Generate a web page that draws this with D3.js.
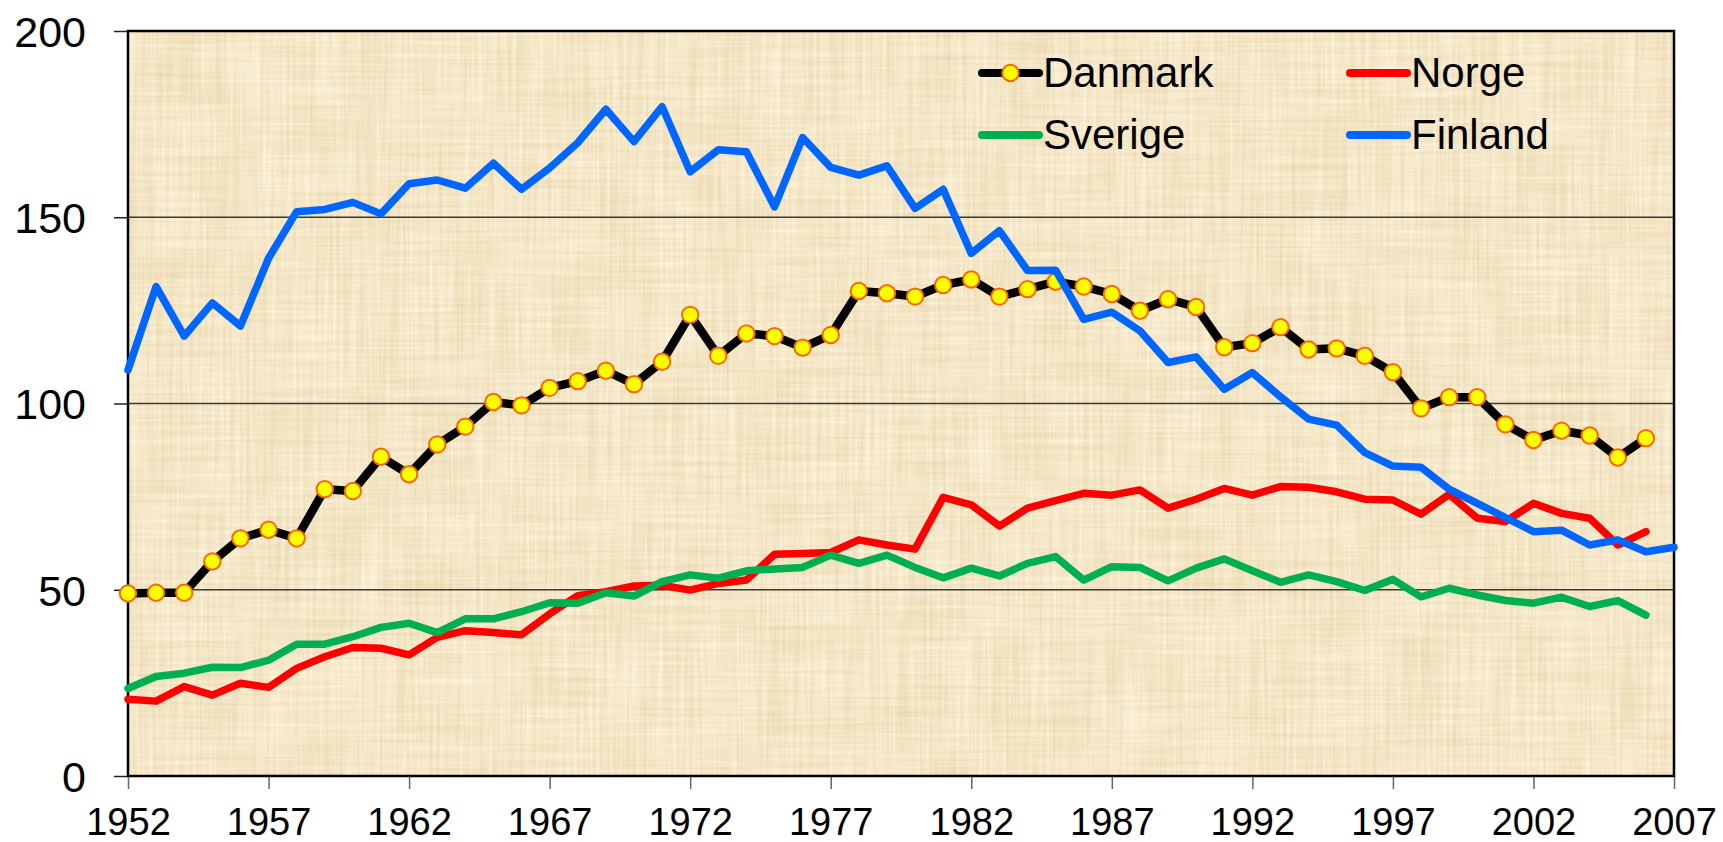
<!DOCTYPE html>
<html>
<head>
<meta charset="utf-8">
<script src="https://cdn.jsdelivr.net/npm/d3@7/dist/d3.min.js"></script>
<style>
  html, body { margin: 0; padding: 0; background: #ffffff; }
  svg { display: block; }
  text { font-family: "Liberation Sans", Arial, sans-serif; fill: #000; }
</style>
</head>
<body>
<svg id="chart" width="1723" height="842"></svg>
<script>
// ---- data ----
const years = [1952,1953,1954,1955,1956,1957,1958,1959,1960,1961,1962,1963,1964,1965,1966,1967,1968,1969,1970,1971,1972,1973,1974,1975,1976,1977,1978,1979,1980,1981,1982,1983,1984,1985,1986,1987,1988,1989,1990,1991,1992,1993,1994,1995,1996,1997,1998,1999,2000,2001,2002,2003,2004,2005,2006,2007];

const danmark = [49.0,49.2,49.2,57.6,63.8,66.1,63.8,77.0,76.5,85.7,81.0,89.0,93.8,100.4,99.5,104.2,106.0,108.8,105.2,111.2,123.8,112.8,118.8,118.1,115.0,118.4,130.2,129.6,128.7,131.8,133.3,128.7,130.7,132.7,131.4,129.4,124.9,128.0,125.9,115.1,116.2,120.5,114.5,114.8,112.8,108.4,98.7,101.7,101.7,94.4,90.2,92.7,91.4,85.5,90.7,null];

const norge = [20.6,20.1,24.0,21.7,24.9,23.8,28.9,32.0,34.5,34.3,32.5,37.2,39.0,38.5,37.9,43.5,48.4,49.5,51.0,51.2,49.9,51.7,52.6,59.5,59.7,60.0,63.4,62.0,60.9,74.8,72.8,67.1,71.9,73.9,75.9,75.4,76.8,71.9,74.3,77.2,75.4,77.7,77.5,76.3,74.3,74.1,70.3,75.6,69.2,68.3,73.2,70.5,69.2,62.0,65.6,null];

const sverige = [23.5,26.7,27.6,29.2,29.1,31.1,35.4,35.4,37.4,39.9,41.0,38.5,42.2,42.2,44.1,46.5,46.4,49.2,48.3,52.2,54.0,53.1,55.1,55.6,56.0,59.3,57.1,59.3,56.0,53.2,55.8,53.7,57.1,58.9,52.6,56.2,56.0,52.4,55.8,58.3,55.1,52.0,54.0,52.2,49.8,52.8,48.1,50.4,48.6,47.1,46.4,48.0,45.5,47.1,43.2,null];

const finland = [109.0,131.4,118.1,127.0,120.8,139.0,151.5,152.1,154.0,150.9,159.0,160.0,157.8,164.5,157.5,163.2,170.0,179.0,170.3,179.7,162.2,168.1,167.6,152.8,171.4,163.4,161.3,163.8,152.4,157.5,140.3,146.4,135.7,135.8,122.6,124.5,119.5,111.0,112.5,103.8,108.3,101.8,95.8,94.2,86.8,83.2,82.9,77.0,73.2,69.4,65.6,66.0,62.0,63.4,60.2,61.4];

const seriesNames = ["Danmark", "Norge", "Sverige", "Finland"];
const xTickLabels = [1952,1957,1962,1967,1972,1977,1982,1987,1992,1997,2002,2007];
const yTickLabels = [0,50,100,150,200];

// ---- layout ----
const W = 1723, H = 842;
const L = 128, R = 1674, T = 31, B = 776;

const svg = d3.select("#chart");
const x = d3.scaleLinear().domain([1952, 2007]).range([L, R]);
const y = d3.scaleLinear().domain([0, 200]).range([B, T]);

// papyrus texture (fibrous noise)
const defs = svg.append("defs");
const f = defs.append("filter").attr("id", "papyrus")
  .attr("filterUnits", "userSpaceOnUse")
  .attr("x", L).attr("y", T).attr("width", R - L).attr("height", B - T);
const gray = "1 0 0 0 0  1 0 0 0 0  1 0 0 0 0  0 0 0 0 1";
f.append("feTurbulence").attr("type", "fractalNoise").attr("baseFrequency", "0.30 0.008")
  .attr("numOctaves", 3).attr("seed", 4).attr("result", "t1");
f.append("feColorMatrix").attr("in", "t1").attr("type", "matrix").attr("values", gray).attr("result", "g1");
f.append("feTurbulence").attr("type", "fractalNoise").attr("baseFrequency", "0.008 0.30")
  .attr("numOctaves", 3).attr("seed", 9).attr("result", "t2");
f.append("feColorMatrix").attr("in", "t2").attr("type", "matrix").attr("values", gray).attr("result", "g2");
f.append("feTurbulence").attr("type", "fractalNoise").attr("baseFrequency", "0.02 0.02")
  .attr("numOctaves", 2).attr("seed", 17).attr("result", "t3");
f.append("feColorMatrix").attr("in", "t3").attr("type", "matrix").attr("values", gray).attr("result", "g3");
f.append("feComposite").attr("in", "g1").attr("in2", "g2").attr("operator", "arithmetic")
  .attr("k1", 0).attr("k2", 0.55).attr("k3", 0.45).attr("k4", 0).attr("result", "g12");
f.append("feComposite").attr("in", "g12").attr("in2", "g3").attr("operator", "arithmetic")
  .attr("k1", 0).attr("k2", 0.8).attr("k3", 0.2).attr("k4", 0).attr("result", "n");
f.append("feColorMatrix").attr("in", "n").attr("type", "matrix")
  .attr("values", "0.36 0 0 0 0.725  0 0.46 0 0 0.565  0 0 0.62 0 0.26  0 0 0 0 1");

// plot background
svg.append("rect").attr("x", L).attr("y", T).attr("width", R - L).attr("height", B - T)
  .attr("fill", "#E5CA8F");
svg.append("rect").attr("x", L).attr("y", T).attr("width", R - L).attr("height", B - T)
  .attr("fill", "#E5CA8F").attr("filter", "url(#papyrus)");

// gridlines
svg.append("g").selectAll("line").data([50, 100, 150]).join("line")
  .attr("x1", L).attr("x2", R).attr("y1", d => y(d)).attr("y2", d => y(d))
  .attr("stroke", "#3a3a3a").attr("stroke-width", 1.3);

// axes
const yAxis = d3.axisLeft(y).tickValues(yTickLabels).tickSize(14).tickPadding(28).tickSizeOuter(0);
const gy = svg.append("g").attr("transform", `translate(${L},0)`).call(yAxis);
gy.select(".domain").remove();
gy.selectAll(".tick line").attr("stroke", "#222").attr("stroke-width", 1.5);
gy.selectAll(".tick text").style("font-size", "43px").attr("dy", "0.36em");

const xAxis = d3.axisBottom(x).tickValues(xTickLabels).tickFormat(d3.format("d"))
  .tickSize(13).tickPadding(19).tickSizeOuter(0);
const gx = svg.append("g").attr("transform", `translate(0,${B})`).call(xAxis);
gx.select(".domain").remove();
gx.selectAll(".tick line").attr("stroke", "#666").attr("stroke-width", 1.5);
gx.selectAll(".tick text").style("font-size", "38px");

// frame
svg.append("rect").attr("x", L).attr("y", T).attr("width", R - L).attr("height", B - T)
  .attr("fill", "none").attr("stroke", "#000").attr("stroke-width", 2.5);

// series
const colors = { Danmark: "#000000", Norge: "#FF0000", Sverige: "#00B050", Finland: "#0066FF" };
const valuesBy = { Danmark: danmark, Norge: norge, Sverige: sverige, Finland: finland };
const line = d3.line()
  .defined(d => d.v != null)
  .x(d => x(d.year)).y(d => y(d.v));

const plotG = svg.append("g");
seriesNames.forEach(name => {
  const pts = years.map((yr, i) => ({ year: yr, v: valuesBy[name][i] }));
  plotG.append("path").datum(pts)
    .attr("d", line)
    .attr("fill", "none")
    .attr("stroke", colors[name])
    .attr("stroke-width", name === "Danmark" ? 8.5 : 7.5)
    .attr("stroke-linejoin", "round")
    .attr("stroke-linecap", "round");
  if (name === "Danmark") {
    plotG.append("g").selectAll("circle").data(pts.filter(d => d.v != null)).join("circle")
      .attr("cx", d => x(d.year)).attr("cy", d => y(d.v)).attr("r", 8.2)
      .attr("fill", "#FFFF00").attr("stroke", "#FF6600").attr("stroke-width", 2);
  }
});

// legend
const legendItems = [
  { name: "Danmark", lx: 982, ly: 73 },
  { name: "Norge", lx: 1350, ly: 73 },
  { name: "Sverige", lx: 982, ly: 135 },
  { name: "Finland", lx: 1350, ly: 135 }
];
const lg = svg.append("g");
legendItems.forEach(it => {
  const g = lg.append("g");
  g.append("line").attr("x1", it.lx).attr("x2", it.lx + 57).attr("y1", it.ly).attr("y2", it.ly)
    .attr("stroke", colors[it.name]).attr("stroke-width", 8).attr("stroke-linecap", "round");
  if (it.name === "Danmark") {
    g.append("circle").attr("cx", it.lx + 28.5).attr("cy", it.ly).attr("r", 8.2)
      .attr("fill", "#FFFF00").attr("stroke", "#FF6600").attr("stroke-width", 2);
  }
  g.append("text").attr("x", it.lx + 61).attr("y", it.ly + 14)
    .style("font-size", "42px").text(it.name);
});
</script>
</body>
</html>
